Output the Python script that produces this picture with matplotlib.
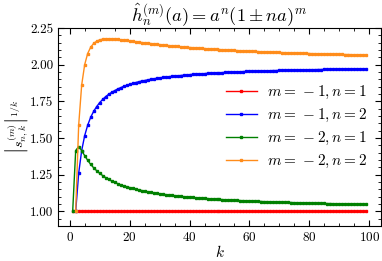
import matplotlib
matplotlib.use("Agg")
import matplotlib.pyplot as plt
import numpy as np
from matplotlib.ticker import AutoMinorLocator

plt.rcParams['mathtext.fontset'] = 'cm'
plt.rcParams['font.family'] = 'serif'
plt.rcParams['font.serif'] = ['cmr10', 'DejaVu Serif']
plt.rcParams['axes.formatter.use_mathtext'] = True
plt.rcParams['font.size'] = 11

# datos
k1 = np.arange(1, 100)   # series n = 1
k2 = np.arange(2, 100)   # series n = 2

m1n1 = [1.0] * 99

m1n2 = [1.000, 1.260, 1.414, 1.516, 1.587, 1.641, 1.682, 1.714, 1.741, 1.763,
        1.782, 1.798, 1.811, 1.823, 1.834, 1.843, 1.852, 1.859, 1.866, 1.872,
        1.878, 1.883, 1.888, 1.892, 1.896, 1.900, 1.903, 1.907, 1.910, 1.913,
        1.915, 1.918, 1.920, 1.922, 1.924, 1.926, 1.928, 1.930, 1.932, 1.934,
        1.935, 1.937, 1.938, 1.939, 1.941, 1.942, 1.943, 1.944, 1.945, 1.946,
        1.947, 1.948, 1.949, 1.950, 1.951, 1.952, 1.953, 1.954, 1.954, 1.955,
        1.956, 1.956, 1.957, 1.958, 1.958, 1.959, 1.960, 1.960, 1.961, 1.961,
        1.962, 1.962, 1.963, 1.963, 1.964, 1.964, 1.965, 1.965, 1.966, 1.966,
        1.966, 1.967, 1.967, 1.968, 1.968, 1.968, 1.969, 1.969, 1.969, 1.970,
        1.970, 1.970, 1.971, 1.971, 1.971, 1.972, 1.972, 1.972]

m2n1 = [1.000, 1.414, 1.442, 1.414, 1.380, 1.348, 1.320, 1.297, 1.277, 1.259,
        1.244, 1.230, 1.218, 1.207, 1.198, 1.189, 1.181, 1.174, 1.168, 1.162,
        1.156, 1.151, 1.146, 1.142, 1.137, 1.134, 1.130, 1.126, 1.123, 1.120,
        1.117, 1.114, 1.112, 1.109, 1.107, 1.105, 1.103, 1.100, 1.098, 1.097,
        1.095, 1.093, 1.091, 1.090, 1.088, 1.087, 1.085, 1.084, 1.083, 1.081,
        1.080, 1.079, 1.078, 1.077, 1.076, 1.075, 1.073, 1.073, 1.072, 1.071,
        1.070, 1.069, 1.068, 1.067, 1.066, 1.066, 1.065, 1.064, 1.063, 1.063,
        1.062, 1.061, 1.061, 1.060, 1.059, 1.059, 1.058, 1.057, 1.057, 1.056,
        1.056, 1.055, 1.055, 1.054, 1.054, 1.053, 1.053, 1.052, 1.052, 1.051,
        1.051, 1.050, 1.050, 1.050, 1.049, 1.049, 1.048, 1.048, 1.048]

m2n2 = [1.000, 1.587, 1.861, 2.000, 2.076, 2.119, 2.145, 2.160, 2.169, 2.174,
        2.176, 2.176, 2.176, 2.174, 2.172, 2.170, 2.168, 2.165, 2.162, 2.159,
        2.157, 2.154, 2.151, 2.149, 2.146, 2.144, 2.141, 2.139, 2.137, 2.134,
        2.132, 2.130, 2.128, 2.126, 2.124, 2.122, 2.121, 2.119, 2.117, 2.116,
        2.114, 2.112, 2.111, 2.110, 2.108, 2.107, 2.105, 2.104, 2.103, 2.102,
        2.100, 2.099, 2.098, 2.097, 2.096, 2.095, 2.094, 2.093, 2.092, 2.091,
        2.090, 2.089, 2.088, 2.087, 2.086, 2.086, 2.085, 2.084, 2.083, 2.082,
        2.082, 2.081, 2.080, 2.079, 2.079, 2.078, 2.077, 2.077, 2.076, 2.075,
        2.075, 2.074, 2.074, 2.073, 2.072, 2.072, 2.071, 2.071, 2.070, 2.070,
        2.069, 2.069, 2.068, 2.068, 2.067, 2.067, 2.066, 2.066]

fig = plt.figure(figsize=(3.82, 2.61), dpi=100)
ax = fig.add_axes([58/382, 1-226/261, (381-58)/382, (226-28)/261])

estilo = dict(marker='s', ms=1.6, lw=1.0)
ax.plot(k1, m1n1, color='red', label=r'$m=\,-1,n=1$', **estilo)
ax.plot(k2, m1n2, color='blue', label=r'$m=\,-1,n=2$', **estilo)
ax.plot(k1, m2n1, color='green', label=r'$m=\,-2,n=1$', **estilo)
ax.plot(k2, m2n2, color='#ff8c1a', label=r'$m=\,-2,n=2$', **estilo)

ax.set_ylim(0.9, 2.25)
ax.set_yticks([1.00, 1.25, 1.50, 1.75, 2.00, 2.25])
ax.set_yticklabels(['1.00', '1.25', '1.50', '1.75', '2.00', '2.25'])
ax.xaxis.set_minor_locator(AutoMinorLocator(4))
ax.yaxis.set_minor_locator(AutoMinorLocator(5))
ax.tick_params(which='both', direction='in', top=True, right=True,
               labelsize=9.5)
ax.tick_params(which='major', length=4.5)
ax.tick_params(which='minor', length=2.5)

ax.set_title(r'$\hat{h}_n^{(m)}(a) = a^n(1 \pm na)^m$', pad=3)
ax.set_xlabel(r'$k$', labelpad=0)
ax.set_ylabel(r'$\left|s_{n,k}^{(m)}\right|^{1/k}$', fontsize=10)
ax.yaxis.set_label_coords(-0.085, 0.5)
ax.legend(loc='center right', frameon=False, labelspacing=0.38,
          fontsize=11, handlelength=2.0, handletextpad=0.7)

plt.savefig('out.png', dpi=100)
